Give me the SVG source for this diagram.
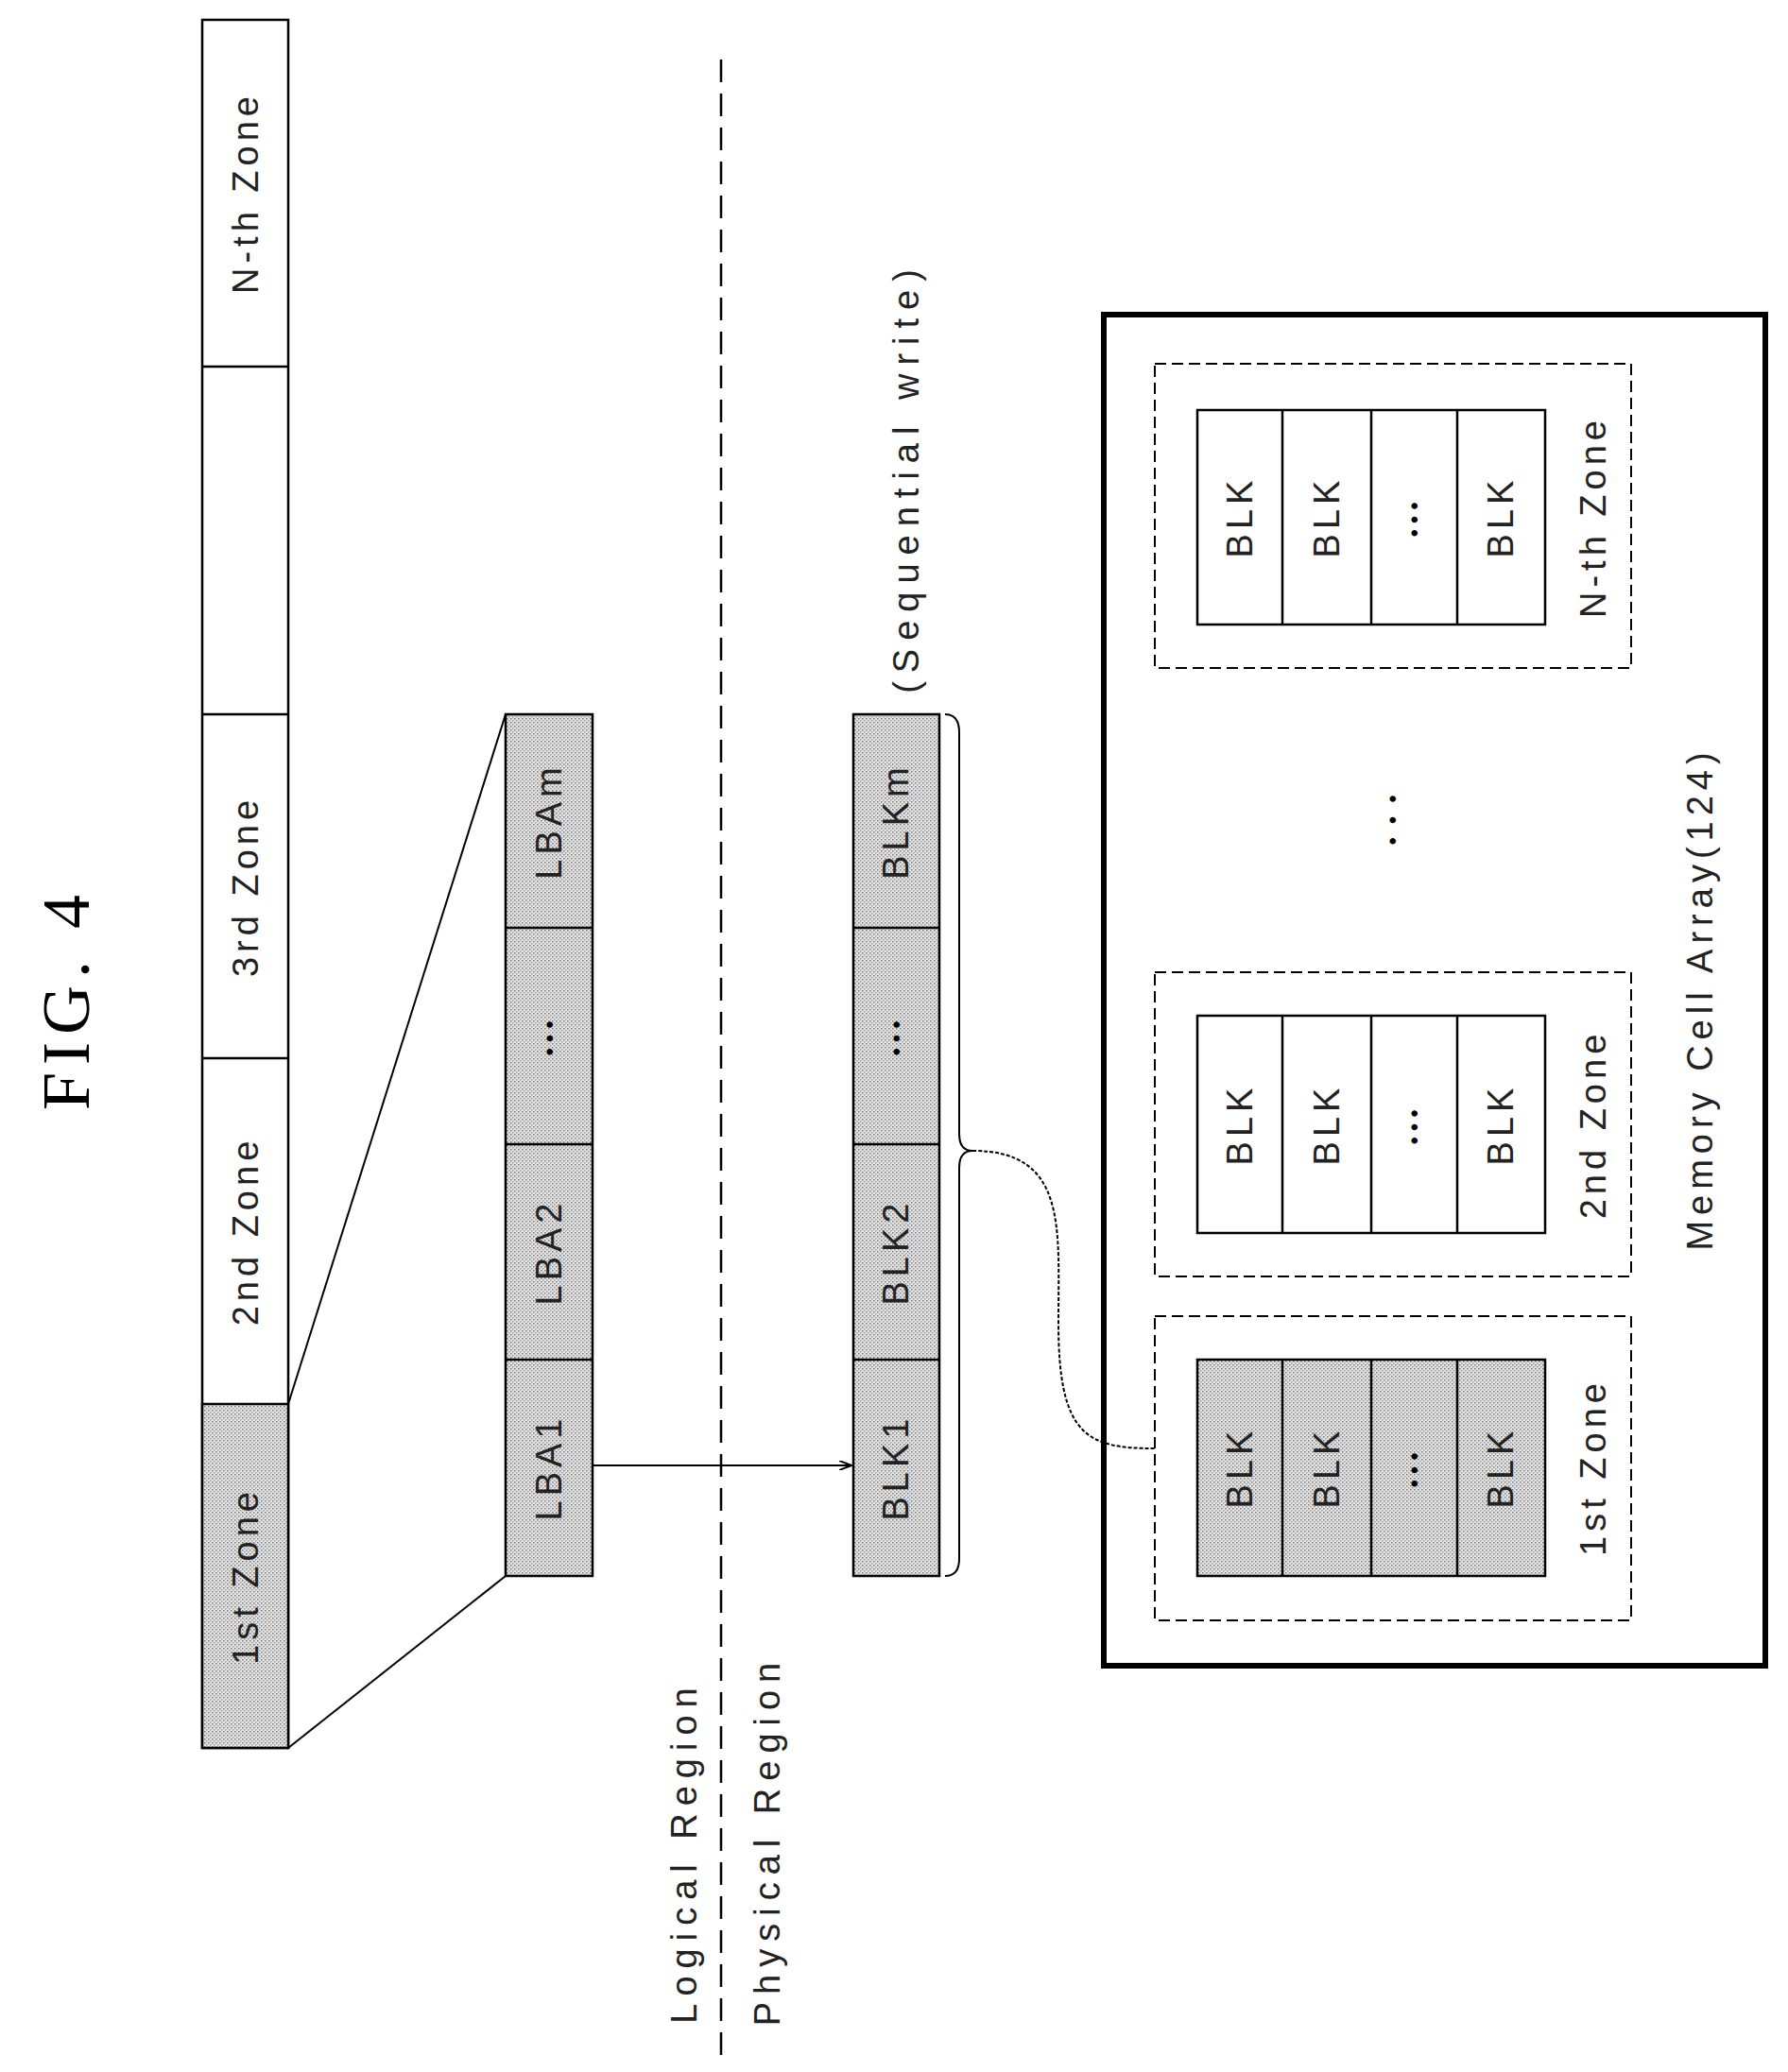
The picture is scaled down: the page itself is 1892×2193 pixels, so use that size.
<svg xmlns="http://www.w3.org/2000/svg" width="1892" height="2193" viewBox="0 0 1892 2193">
<defs>
<pattern id="dots" width="4" height="4" patternUnits="userSpaceOnUse"><rect width="4" height="4" fill="#e4e4e4"/><rect x="0" y="0" width="1.5" height="1.5" fill="#777"/><rect x="2" y="2" width="1.5" height="1.5" fill="#999"/></pattern>
<marker id="ah" markerWidth="14" markerHeight="10" refX="13" refY="5" orient="auto" markerUnits="userSpaceOnUse"><path d="M0,0 L13,5 L0,10" fill="none" stroke="#000" stroke-width="2"/></marker>
</defs>
<style>
.b{fill:none;stroke:#000;stroke-width:2.5}
.s{fill:url(#dots);stroke:#000;stroke-width:2.5}
.w{fill:#fff;stroke:#000;stroke-width:2.5}
.dz{fill:none;stroke:#000;stroke-width:2;stroke-dasharray:12 6}
.t{font-family:"Liberation Sans",Arial,sans-serif;font-size:38px;letter-spacing:5px;text-anchor:middle;dominant-baseline:central;fill:#222}
.d{font-family:"Liberation Sans",Arial,sans-serif;font-size:24px;letter-spacing:6px;text-anchor:middle;dominant-baseline:central}
.ln{fill:none;stroke:#000;stroke-width:2}
</style>
<text x="70" y="1057" transform="rotate(-90 70 1057)" style="font-family:'Liberation Serif',serif;font-size:72px;letter-spacing:8px;text-anchor:middle;dominant-baseline:central">FIG. 4</text>

<g id="zones">
<rect class="w" x="214" y="21" width="91" height="1829"/>
<rect class="s" x="214" y="1486" width="91" height="364"/>
<line class="b" x1="214" y1="1120" x2="305" y2="1120"/>
<line class="b" x1="214" y1="756" x2="305" y2="756"/>
<line class="b" x1="214" y1="388" x2="305" y2="388"/>
<text class="t" x="260" y="1668" transform="rotate(-90 260 1668)">1st Zone</text>
<text class="t" x="260" y="1303" transform="rotate(-90 260 1303)">2nd Zone</text>
<text class="t" x="260" y="938" transform="rotate(-90 260 938)">3rd Zone</text>
<text class="t" x="260" y="204" transform="rotate(-90 260 204)">N-th Zone</text>
</g>

<g id="lba">
<rect class="s" x="535" y="756" width="92" height="912"/>
<line class="b" x1="535" y1="1439" x2="627" y2="1439"/>
<line class="b" x1="535" y1="1211" x2="627" y2="1211"/>
<line class="b" x1="535" y1="982" x2="627" y2="982"/>
<text class="t" x="581" y="1553" transform="rotate(-90 581 1553)">LBA1</text>
<text class="t" x="581" y="1325" transform="rotate(-90 581 1325)">LBA2</text>
<text class="d" x="581" y="1096" transform="rotate(-90 581 1096)">•••</text>
<text class="t" x="581" y="869" transform="rotate(-90 581 869)">LBAm</text>
</g>

<g id="blk">
<rect class="s" x="903" y="756" width="91" height="912"/>
<line class="b" x1="903" y1="1439" x2="994" y2="1439"/>
<line class="b" x1="903" y1="1211" x2="994" y2="1211"/>
<line class="b" x1="903" y1="982" x2="994" y2="982"/>
<text class="t" x="948" y="1553" transform="rotate(-90 948 1553)">BLK1</text>
<text class="t" x="948" y="1325" transform="rotate(-90 948 1325)">BLK2</text>
<text class="d" x="948" y="1096" transform="rotate(-90 948 1096)">•••</text>
<text class="t" x="948" y="869" transform="rotate(-90 948 869)">BLKm</text>
<text class="t" x="959" y="505" transform="rotate(-90 959 505)" style="letter-spacing:9px">(Sequential write)</text>
</g>

<g id="labels">
<text class="t" x="724" y="1960" transform="rotate(-90 724 1960)" style="letter-spacing:8px">Logical Region</text>
<text class="t" x="812" y="1948" transform="rotate(-90 812 1948)" style="letter-spacing:8px">Physical Region</text>
</g>

<g id="mca">
<rect x="1168" y="333" width="700" height="1430" fill="none" stroke="#000" stroke-width="6"/>
<rect class="dz" x="1222" y="1393" width="504" height="322"/>
<rect class="s" x="1267" y="1439" width="368" height="229"/>
<line class="b" x1="1357" y1="1439" x2="1357" y2="1668"/><line class="b" x1="1451" y1="1439" x2="1451" y2="1668"/><line class="b" x1="1542" y1="1439" x2="1542" y2="1668"/>
<text class="t" x="1312" y="1553" transform="rotate(-90 1312 1553)">BLK</text>
<text class="t" x="1404" y="1553" transform="rotate(-90 1404 1553)">BLK</text>
<text class="d" x="1496" y="1553" transform="rotate(-90 1496 1553)">•••</text>
<text class="t" x="1588" y="1553" transform="rotate(-90 1588 1553)">BLK</text>
<text class="t" x="1686" y="1553" transform="rotate(-90 1686 1553)">1st Zone</text>

<rect class="dz" x="1222" y="1029" width="504" height="322"/>
<rect class="w" x="1267" y="1075" width="368" height="230"/>
<line class="b" x1="1357" y1="1075" x2="1357" y2="1305"/><line class="b" x1="1451" y1="1075" x2="1451" y2="1305"/><line class="b" x1="1542" y1="1075" x2="1542" y2="1305"/>
<text class="t" x="1312" y="1190" transform="rotate(-90 1312 1190)">BLK</text>
<text class="t" x="1404" y="1190" transform="rotate(-90 1404 1190)">BLK</text>
<text class="d" x="1496" y="1190" transform="rotate(-90 1496 1190)">•••</text>
<text class="t" x="1588" y="1190" transform="rotate(-90 1588 1190)">BLK</text>
<text class="t" x="1686" y="1190" transform="rotate(-90 1686 1190)">2nd Zone</text>

<rect class="dz" x="1222" y="385" width="504" height="322"/>
<rect class="w" x="1267" y="434" width="368" height="227"/>
<line class="b" x1="1357" y1="434" x2="1357" y2="661"/><line class="b" x1="1451" y1="434" x2="1451" y2="661"/><line class="b" x1="1542" y1="434" x2="1542" y2="661"/>
<text class="t" x="1312" y="547" transform="rotate(-90 1312 547)">BLK</text>
<text class="t" x="1404" y="547" transform="rotate(-90 1404 547)">BLK</text>
<text class="d" x="1496" y="547" transform="rotate(-90 1496 547)">•••</text>
<text class="t" x="1588" y="547" transform="rotate(-90 1588 547)">BLK</text>
<text class="t" x="1686" y="547" transform="rotate(-90 1686 547)">N-th Zone</text>

<text class="d" x="1473" y="861" transform="rotate(-90 1473 861)" style="letter-spacing:14px">•••</text>
<text class="t" x="1799" y="1057" transform="rotate(-90 1799 1057)" style="letter-spacing:6px">Memory Cell Array(124)</text>
</g>

<g id="connectors">
<line class="ln" x1="305" y1="1850" x2="535" y2="1668"/>
<line class="ln" x1="305" y1="1486" x2="535" y2="756"/>
<line x1="763" y1="63" x2="763" y2="2176" stroke="#000" stroke-width="2.5" stroke-dasharray="24 12"/>
<line class="ln" x1="627" y1="1551" x2="901" y2="1551" marker-end="url(#ah)"/>
<path class="ln" d="M1000,756 Q1015,756 1015,775 L1015,1200 Q1015,1218 1029,1218 Q1015,1218 1015,1236 L1015,1650 Q1015,1668 1000,1668"/>
<path class="ln" stroke-dasharray="4 2" d="M1029,1218 C1130,1218 1120,1300 1120,1400 C1120,1520 1150,1533 1222,1533"/>
</g>
</svg>
